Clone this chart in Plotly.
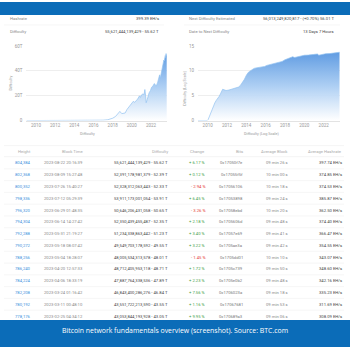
import plotly.graph_objects as go

W = H = 350

# ---------------- data ----------------
diff_years = [2009.0, 2010.0, 2011.0, 2012.0, 2013.0, 2014.0, 2015.0, 2016.0, 2016.5, 2017.0,
              2017.5, 2018.0, 2018.3, 2018.55, 2018.75, 2018.95, 2019.1, 2019.3, 2019.5, 2019.7,
              2019.85, 2020.0, 2020.15, 2020.3, 2020.45, 2020.6, 2020.8, 2020.9, 2021.0, 2021.15,
              2021.28, 2021.36, 2021.44, 2021.5, 2021.6, 2021.7, 2021.8, 2021.95, 2022.05, 2022.2,
              2022.35, 2022.5, 2022.55, 2022.7, 2022.8, 2022.9, 2022.97, 2023.05, 2023.15, 2023.2,
              2023.23, 2023.27, 2023.3, 2023.34, 2023.38, 2023.41, 2023.45, 2023.49, 2023.53, 2023.57,
              2023.6, 2023.64]
diff_T = [0, 0, 0, 0, 0.003, 0.004, 0.04, 0.1, 0.2, 0.32,
          0.7, 1.9, 3.3, 5.9, 7.4, 5.6, 5.9, 6.1, 9.0, 10.8,
          13.0, 13.9, 15.5, 14.7, 15.8, 17.3, 19.9, 18.7, 20.6, 21.4,
          21.0, 25.0, 19.9, 14.4, 16.8, 19.9, 22.3, 24.3, 26.6, 27.9,
          29.8, 28.2, 27.7, 30.9, 35.6, 36.8, 34.2, 37.6, 39.4, 43.05,
          43.55, 46.84, 47.89, 48.71, 48.01, 49.55, 51.23, 52.35, 50.65, 53.91,
          52.33, 52.39, 55.62]
diff_years = diff_years[:len(diff_T)]

log_years = [2009.0, 2009.95, 2010.05, 2010.2, 2010.35, 2010.5, 2010.6, 2010.75, 2010.9, 2011.05,
             2011.2, 2011.35, 2011.45, 2011.55, 2011.7, 2011.9, 2012.2, 2012.5, 2012.8, 2013.0,
             2013.2, 2013.4, 2013.6, 2013.8, 2014.0, 2014.2, 2014.4, 2014.6, 2014.8, 2015.0,
             2015.3, 2015.6, 2015.9, 2016.1, 2016.5, 2016.9, 2017.3, 2017.7, 2018.0, 2018.4,
             2018.8, 2019.0, 2019.3, 2019.6, 2020.0, 2020.4, 2020.9, 2021.35, 2021.5, 2021.8,
             2022.2, 2022.6, 2023.0, 2023.3, 2023.64]
log_diff = [0.0, 0.0, 0.2, 1.0, 1.9, 2.5, 3.0, 3.6, 4.1, 4.4,
            4.9, 5.5, 6.0, 6.3, 6.2, 6.05, 6.15, 6.3, 6.45, 6.55,
            6.75, 7.1, 7.6, 8.3, 9.1, 9.7, 10.0, 10.3, 10.5, 10.6,
            10.65, 10.72, 10.9, 11.1, 11.3, 11.5, 11.7, 11.9, 12.25, 12.55,
            12.85, 12.7, 12.85, 12.98, 13.15, 13.18, 13.28, 13.4, 13.16, 13.35,
            13.45, 13.48, 13.58, 13.66, 13.75]

year_ticks = [2010, 2012, 2014, 2016, 2018, 2020, 2022]
diff_ticks = [0, 20, 40, 60]
diff_tick_labels = ["0", "20T", "40T", "60T"]
log_ticks = [0, 5, 10, 15]

summary_left_labels = ["Hashrate", "Difficulty"]
summary_left_values = ["399.39 EH/s", "55,621,444,139,429 - 55.62 T"]
summary_right_labels = ["Next Difficulty Estimated", "Date to Next Difficulty"]
summary_right_values = ["56,013,249,820,817 - (+0.70%) 56.01 T", "13 Days 7 Hours"]

table_headers = ["Height", "Block Time", "Difficulty", "Change", "Bits",
                 "Average Block", "Average Hashrate"]
heights = ["804,384", "802,368", "800,352", "798,336", "796,320", "794,304", "792,288",
           "790,272", "788,256", "786,240", "784,224", "782,208", "780,192", "778,176"]
block_times = ["2023-08-22 20:16:39", "2023-08-09 15:27:48", "2023-07-26 15:40:27",
               "2023-07-12 05:29:39", "2023-06-29 01:48:35", "2023-06-14 14:27:42",
               "2023-05-31 21:19:27", "2023-05-18 08:07:42", "2023-05-04 18:28:07",
               "2023-04-20 12:57:33", "2023-04-06 18:33:19", "2023-03-24 01:16:42",
               "2023-03-11 00:48:10", "2023-02-25 04:34:12"]
difficulties = ["55,621,444,139,429 - 55.62 T", "52,391,178,981,379 - 52.39 T",
                "52,328,312,063,443 - 52.33 T", "53,911,173,001,054 - 53.91 T",
                "50,646,206,431,058 - 50.65 T", "52,350,439,455,487 - 52.35 T",
                "51,234,338,863,442 - 51.23 T", "49,549,703,178,592 - 49.55 T",
                "48,005,534,313,578 - 48.01 T", "48,712,405,953,118 - 48.71 T",
                "47,887,764,338,536 - 47.89 T", "46,843,400,286,276 - 46.84 T",
                "43,551,722,213,590 - 43.55 T", "43,053,844,193,928 - 43.05 T"]
changes = [6.17, 0.12, -2.94, 6.45, -3.26, 2.18, 3.40, 3.22, -1.45, 1.72, 2.23, 7.56, 1.16, 9.95]
bits = ["0x17050f7e", "0x17055f5f", "0x17056106", "0x17053898", "0x17058ebd", "0x1705606d",
        "0x17057e69", "0x1705ae3a", "0x1705dd01", "0x1705c739", "0x1705e0b2", "0x1706023a",
        "0x17067681", "0x170689a3"]
avg_blocks = ["09 min 26 s", "10 min 00 s", "10 min 18 s", "09 min 24 s", "10 min 20 s",
              "09 min 48 s", "09 min 41 s", "09 min 42 s", "10 min 10 s", "09 min 50 s",
              "09 min 48 s", "09 min 18 s", "09 min 53 s", "09 min 06 s"]
avg_hashrates = ["397.74 EH/s", "374.85 EH/s", "374.53 EH/s", "385.87 EH/s", "362.50 EH/s",
                 "374.40 EH/s", "366.47 EH/s", "354.55 EH/s", "343.07 EH/s", "348.60 EH/s",
                 "342.16 EH/s", "335.23 EH/s", "311.69 EH/s", "308.09 EH/s"]

caption = "Bitcoin network fundamentals overview (screenshot). Source: BTC.com"

# ---------------- helpers ----------------
def X(px):
    return px / W

def Y(py):
    return 1 - py / H

FONT = "Roboto"
annotations = []
shapes = []

def text(x, y, s, size=4.2, color="#888888", anchor="left", angle=0, family=FONT):
    annotations.append(dict(x=X(x), y=Y(y), xref="paper", yref="paper", text=s,
                            showarrow=False, xanchor=anchor, yanchor="middle",
                            textangle=angle, borderpad=0, borderwidth=0,
                            font=dict(size=size, color=color, family=family)))

def hline(x0, x1, y, color="#eeeeee", width=0.6):
    shapes.append(dict(type="line", xref="paper", yref="paper", x0=X(x0), x1=X(x1),
                       y0=Y(y), y1=Y(y), line=dict(color=color, width=width), layer="below"))

BLUE = "#0b6cb8"
# bands
shapes.append(dict(type="rect", xref="paper", yref="paper", x0=0, x1=1, y0=Y(13.3), y1=1,
                   fillcolor=BLUE, line=dict(width=0), layer="below"))
shapes.append(dict(type="rect", xref="paper", yref="paper", x0=0, x1=1, y0=0, y1=Y(322.7),
                   fillcolor=BLUE, line=dict(width=0), layer="below"))

# summary rows
for i in range(2):
    yy = 17.2 + 12.3 * i
    text(9.5, yy, summary_left_labels[i], color="#888888")
    text(159, yy, summary_left_values[i], color="#444444", anchor="right")
    text(189, yy, summary_right_labels[i], color="#888888")
    text(334.3, yy, summary_right_values[i], color="#444444", anchor="right")
hline(4, 164, 23.3, "#f2f2f2")
hline(184, 340, 23.3, "#f2f2f2")

# chart axis titles
text(87, 133.7, "Difficulty", size=3.8, color="#999999", anchor="center")
text(11, 82.7, "Difficulty", size=3.8, color="#999999", anchor="center", angle=-90)
text(261.7, 133.7, "Difficulty (Log Scale)", size=3.8, color="#999999", anchor="center")
text(185, 88, "Difficulty (Log Scale)", size=3.8, color="#999999", anchor="center", angle=-90)

# table
col_right = [30.8, 83, 168, 205, 243, 288, 342]
header_y = 151.2
hline(4, 344, 145.7)
hline(4, 344, 156.9)
for j, h in enumerate(table_headers):
    text(col_right[j], header_y, h, color="#aaaaaa", anchor="right")

row0, step = 163.3, 11.95
for i in range(len(heights)):
    yy = row0 + step * i
    if i > 0:
        hline(4, 344, yy - 6.0, "#f0f0f0")
    text(col_right[0], yy, heights[i], color="#3b8fdc", anchor="right")
    text(col_right[1], yy, block_times[i], color="#888888", anchor="right")
    text(col_right[2], yy, difficulties[i], color="#444444", anchor="right")
    c = changes[i]
    ctext = ("+ %.2f %%" % c) if c >= 0 else ("- %.2f %%" % abs(c))
    text(col_right[3], yy, ctext, color="#43a047" if c >= 0 else "#e53935", anchor="right")
    text(col_right[4], yy, bits[i], color="#777777", anchor="right")
    text(col_right[5], yy, avg_blocks[i], color="#888888", anchor="right")
    text(col_right[6], yy, avg_hashrates[i], color="#444444", anchor="right")

# caption
text(175, 333, caption, size=6.9, color="#ffffff", anchor="center", family="Open Sans")

# ---------------- figure ----------------
grad = [[0, "rgba(255,255,255,0.9)"], [0.5, "rgba(170,205,243,0.95)"], [1, "rgba(96,156,226,1)"]]

fig = go.Figure()
fig.add_trace(go.Scatter(x=diff_years, y=diff_T, mode="lines", fill="tozeroy",
                         line=dict(color="#93c3f0", width=0.7),
                         fillgradient=dict(type="vertical", colorscale=grad),
                         xaxis="x", yaxis="y", hoverinfo="skip", showlegend=False))
fig.add_trace(go.Scatter(x=log_years, y=log_diff, mode="lines", fill="tozeroy",
                         line=dict(color="#93c3f0", width=0.7),
                         fillgradient=dict(type="vertical", colorscale=grad),
                         xaxis="x2", yaxis="y2", hoverinfo="skip", showlegend=False))

tickfont = dict(size=4.5, color="#999999", family=FONT)
xcommon = dict(tickvals=year_ticks, showgrid=False, zeroline=False, showline=True,
               linecolor="#e3e3e3", linewidth=0.6, ticks="", tickfont=tickfont, fixedrange=True)
ycommon = dict(showgrid=True, gridcolor="#eeeeee", gridwidth=0.6, zeroline=False,
               showline=False, ticks="", tickfont=tickfont, fixedrange=True, ticklabelstandoff=3)

fig.update_layout(
    width=W, height=H, margin=dict(l=0, r=0, t=0, b=0),
    paper_bgcolor="white", plot_bgcolor="white",
    xaxis=dict(domain=[X(26.4), X(167)], range=[2009.0, 2023.67], anchor="y", **xcommon),
    yaxis=dict(domain=[Y(120.3), Y(44.7)], range=[0, 60], tickvals=diff_ticks,
               ticktext=diff_tick_labels, anchor="x", **ycommon),
    xaxis2=dict(domain=[X(198), X(340)], range=[2009.0, 2023.69], anchor="y2", **xcommon),
    yaxis2=dict(domain=[Y(120.3), Y(44.7)], range=[0, 15], tickvals=log_ticks,
                anchor="x2", **ycommon),
    annotations=annotations, shapes=shapes, showlegend=False,
)

fig.write_html("out.html")
